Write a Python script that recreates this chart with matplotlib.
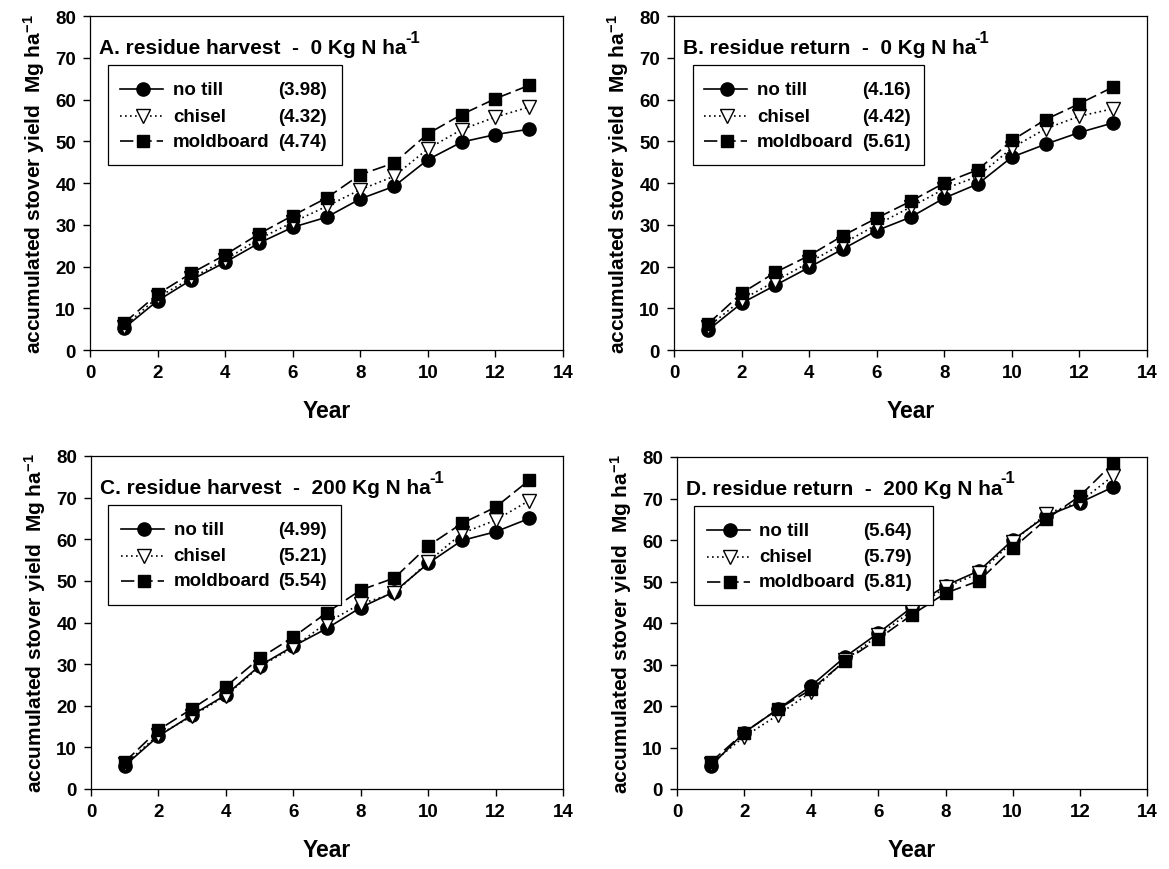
import matplotlib
matplotlib.use("Agg")
import matplotlib.pyplot as plt
from matplotlib import font_manager
from matplotlib.lines import Line2D
from matplotlib.patches import Rectangle
from matplotlib.transforms import offset_copy

names = {f.name for f in font_manager.fontManager.ttflist}
FONT = "Liberation Sans Narrow" if "Liberation Sans Narrow" in names else "Liberation Sans"
plt.rcParams['font.family'] = [FONT, 'DejaVu Sans']
plt.rcParams['font.weight'] = 'bold'
plt.rcParams['mathtext.fontset'] = 'custom'
plt.rcParams['mathtext.rm'] = FONT + ':bold'
plt.rcParams['mathtext.bf'] = FONT + ':bold'
plt.rcParams['mathtext.default'] = 'bf'

years = list(range(1, 14))
series_names = ["no till", "chisel", "moldboard"]

titles = ["A. residue harvest  -  0 Kg N ha",
          "B. residue return  -  0 Kg N ha",
          "C. residue harvest  -  200 Kg N ha",
          "D. residue return  -  200 Kg N ha"]
title_sup = "-1"

# panel A
a_notill = [5.2, 11.8, 16.8, 21.0, 25.6, 29.4, 31.8, 36.2, 39.2, 45.6, 49.8, 51.6, 52.9]
a_chisel = [5.6, 12.6, 17.2, 21.6, 26.6, 30.6, 34.4, 38.4, 41.6, 48.2, 52.8, 55.8, 58.2]
a_mold = [6.4, 13.4, 18.4, 22.8, 27.8, 32.2, 36.4, 42.0, 44.8, 51.8, 56.4, 60.2, 63.4]
a_rates = ["(3.98)", "(4.32)", "(4.74)"]
# panel B
b_notill = [4.7, 11.2, 15.5, 19.8, 24.2, 28.6, 31.8, 36.4, 39.8, 46.2, 49.3, 52.1, 54.4]
b_chisel = [5.5, 12.0, 16.5, 21.0, 25.5, 30.0, 34.2, 38.6, 41.6, 48.4, 53.0, 56.0, 57.8]
b_mold = [6.2, 13.6, 18.6, 22.6, 27.4, 31.6, 35.6, 40.0, 43.2, 50.2, 55.2, 59.0, 63.0]
b_rates = ["(4.16)", "(4.42)", "(5.61)"]
# panel C
c_notill = [5.6, 12.7, 17.8, 22.6, 29.6, 34.3, 38.6, 43.6, 47.4, 54.2, 59.7, 61.8, 65.0]
c_chisel = [6.0, 13.0, 17.5, 22.4, 29.4, 34.0, 40.0, 44.5, 47.0, 54.6, 61.4, 64.6, 69.3]
c_mold = [6.5, 14.2, 19.3, 24.6, 31.4, 36.5, 42.4, 47.8, 50.7, 58.4, 63.8, 67.7, 74.2]
c_rates = ["(4.99)", "(5.21)", "(5.54)"]
# panel D
d_notill = [5.5, 13.6, 19.2, 24.9, 31.8, 37.6, 43.8, 49.0, 52.6, 60.0, 65.8, 69.0, 72.8]
d_chisel = [6.0, 12.6, 17.8, 23.4, 31.0, 37.0, 43.0, 48.6, 52.0, 59.6, 66.3, 69.2, 75.5]
d_mold = [6.4, 13.6, 19.2, 24.0, 30.8, 36.2, 42.0, 47.2, 50.2, 58.0, 65.0, 70.6, 78.6]
d_rates = ["(5.64)", "(5.79)", "(5.81)"]

panels = [(a_notill, a_chisel, a_mold, a_rates),
          (b_notill, b_chisel, b_mold, b_rates),
          (c_notill, c_chisel, c_mold, c_rates),
          (d_notill, d_chisel, d_mold, d_rates)]

styles = [dict(linestyle='-', marker='o', markersize=9.5, markerfacecolor='black'),
          dict(linestyle=(0, (1, 2)), marker='v', markersize=10, markerfacecolor='white'),
          dict(linestyle=(0, (8, 3)), marker='s', markersize=8.5, markerfacecolor='black')]

fig = plt.figure(figsize=(11.69, 8.70), dpi=100)
W, H = 1169, 870
boxes = [(90, 17, 563, 351), (674, 17, 1147, 351), (91, 457, 563, 790), (677, 458, 1147, 790)]
legend_x = [(0.037, 0.532), (0.040, 0.529), (0.035, 0.529), (0.036, 0.545)]

axes = []
title_texts = []
for i, (box, data, title) in enumerate(zip(boxes, panels, titles)):
    x0, y0, x1, y1 = box
    ax = fig.add_axes([x0 / W, 1 - y1 / H, (x1 - x0) / W, (y1 - y0) / H])
    axes.append(ax)
    for ys, st in zip(data[:3], styles):
        ax.plot(years, ys, color='black', linewidth=1.2, markeredgecolor='black',
                markeredgewidth=1.0, **st)
    ax.set_xlim(0, 14)
    ax.set_ylim(0, 80)
    ax.set_xticks(range(0, 15, 2))
    ax.set_yticks(range(0, 81, 10))
    ax.tick_params(direction='out', length=5, width=1, labelsize=13.5, pad=5)
    for s in ax.spines.values():
        s.set_linewidth(0.9)
    ax.set_xlabel("Year", fontsize=16.5, fontweight='bold', labelpad=13)
    ax.set_ylabel("accumulated stover yield  Mg ha$^{-1}$", fontsize=15, fontweight='bold',
                  labelpad=6)
    t = ax.text(0.02, 0.89, title, transform=ax.transAxes, fontsize=15, fontweight='bold',
                ha='left', va='baseline')
    title_texts.append(t)
    # legend
    lx0, lx1 = legend_x[i]
    ly0, ly1 = 0.554, 0.852
    ax.add_patch(Rectangle((lx0, ly0), lx1 - lx0, ly1 - ly0, transform=ax.transAxes,
                           facecolor='white', edgecolor='black', linewidth=0.9, zorder=5))
    rows = [0.78, 0.70, 0.625]
    for ry, name, rate, st in zip(rows, series_names, data[3], styles):
        ln = Line2D([0.064, 0.155], [ry, ry], transform=ax.transAxes, color='black',
                    linewidth=1.2, linestyle=st['linestyle'], zorder=6)
        ax.add_line(ln)
        mk = Line2D([0.112], [ry], transform=ax.transAxes, color='black', linestyle='none',
                    marker=st['marker'], markersize=st['markersize'],
                    markerfacecolor=st['markerfacecolor'], markeredgecolor='black', zorder=7)
        ax.add_line(mk)
        ax.text(0.175, ry, name, transform=ax.transAxes, fontsize=13.5, fontweight='bold',
                ha='left', va='center', zorder=8)
        ax.text(0.50, ry, rate, transform=ax.transAxes, fontsize=13.5, fontweight='bold',
                ha='right', va='center', zorder=8)

# superscripts after the titles
fig.canvas.draw()
renderer = fig.canvas.get_renderer()
for ax, t in zip(axes, title_texts):
    bb = t.get_window_extent(renderer)
    xa, _ = ax.transAxes.inverted().transform((bb.x1, bb.y0))
    ax.text(xa, 0.89, title_sup, fontsize=12, fontweight='bold', ha='left', va='baseline',
            transform=offset_copy(ax.transAxes, fig=fig, x=-1.5, y=8, units='points'))

fig.savefig("out.png", dpi=100)
